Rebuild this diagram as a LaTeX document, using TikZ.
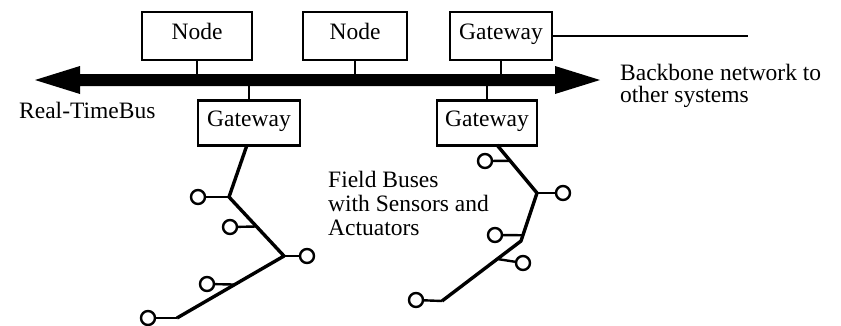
\documentclass[tikz,border=0pt]{standalone}
\usepackage{fontspec}
\setmainfont{Liberation Serif}
\usetikzlibrary{calc}
\begin{document}
\begin{tikzpicture}[x=1pt,y=-1pt,
  txt/.style={font=\fontsize{23.5}{24}\selectfont, inner sep=0pt},
  box/.style={draw, line width=2.2pt, inner sep=0pt, minimum height=48pt,
    text height=12pt, text depth=6pt, font=\fontsize{23.5}{24}\selectfont},
  stem/.style={line width=2.2pt},
  branch/.style={line width=3.4pt, line join=round},
  stub/.style={line width=2.4pt},
  sensor/.style={circle, draw, line width=2.4pt, minimum size=14pt, inner sep=0pt}
]
\useasboundingbox (0,0) rectangle (841,325);

% bus arrow
\fill (35,80) -- (80,66) -- (80,74) -- (555,74) -- (555,66) -- (600,80)
  -- (555,94) -- (555,86) -- (80,86) -- (80,94) -- cycle;
\coordinate (bustop) at (0,74);
\coordinate (busbot) at (0,86);

% top nodes
\node[box, minimum width=110pt] (n1) at (197,36) {Node};
\node[box, minimum width=104pt] (n2) at (355,36) {Node};
\node[box, minimum width=102pt] (gw0) at (501,36) {Gateway};
\draw[stem] (n1.south) -- (n1.south |- bustop);
\draw[stem] (n2.south) -- (n2.south |- bustop);
\draw[stem] (gw0.south) -- (gw0.south |- bustop);

% backbone
\coordinate (bbend) at (748,36);
\draw[stem] (gw0.east) -- (bbend);

% lower gateways
\node[box, minimum width=102pt, minimum height=45pt] (g1) at (249,123) {Gateway};
\node[box, minimum width=100pt, minimum height=45pt] (g2) at (487,123) {Gateway};
\draw[stem] (g1.north) -- (g1.north |- busbot);
\draw[stem] (g2.north) -- (g2.north |- busbot);

% texts
\node[txt, anchor=base west] (rtb) at (19,118) {Real-TimeBus};
\node[txt, anchor=base west] (bb1) at (620,80) {Backbone network to};
\node[txt, anchor=base west] (bb2) at (620,102) {other systems};
\node[txt, anchor=base west] (f1) at (328,187) {Field Buses};
\node[txt, anchor=base west] (f2) at (328,211) {with Sensors and};
\node[txt, anchor=base west] (f3) at (328,235) {Actuators};

% left field bus
\coordinate (L0) at (247,145);
\coordinate (LA) at (229,197);
\coordinate (LB) at (284,256);
\coordinate (LC) at (177,318);
\coordinate (LP1) at ($(LA)!0.5!(LB)$);
\coordinate (LP2) at ($(LB)!0.46!(LC)$);
\draw[branch] (L0) -- (LA) -- (LB) -- (LC);
\node[sensor] (ls1) at (198,197) {};
\node[sensor] (ls2) at (230,227) {};
\node[sensor] (ls3) at (307,256) {};
\node[sensor] (ls4) at (207,284) {};
\node[sensor] (ls5) at (148,318) {};
\draw[stub] (LA) -- (ls1);
\draw[stub] (LP1) -- (ls2);
\draw[stub] (LB) -- (ls3);
\draw[stub] (LP2) -- (ls4);
\draw[stub] (LC) -- (ls5);

% right field bus
\coordinate (R0) at (497,145);
\coordinate (RD) at (537,193);
\coordinate (RE) at (521,241);
\coordinate (RF) at (442,301);
\coordinate (RP1) at ($(R0)!0.33!(RD)$);
\coordinate (RP2) at ($(RD)!0.88!(RE)$);
\coordinate (RP3) at ($(RE)!0.3!(RF)$);
\draw[branch] (R0) -- (RD) -- (RE) -- (RF);
\node[sensor] (rs1) at (485,161) {};
\node[sensor] (rs2) at (563,193) {};
\node[sensor] (rs3) at (495,235) {};
\node[sensor] (rs4) at (523,263) {};
\node[sensor] (rs5) at (416,300) {};
\draw[stub] (RP1) -- (rs1);
\draw[stub] (RD) -- (rs2);
\draw[stub] (RP2) -- (rs3);
\draw[stub] (RP3) -- (rs4);
\draw[stub] (RF) -- (rs5);
\end{tikzpicture}
\end{document}
